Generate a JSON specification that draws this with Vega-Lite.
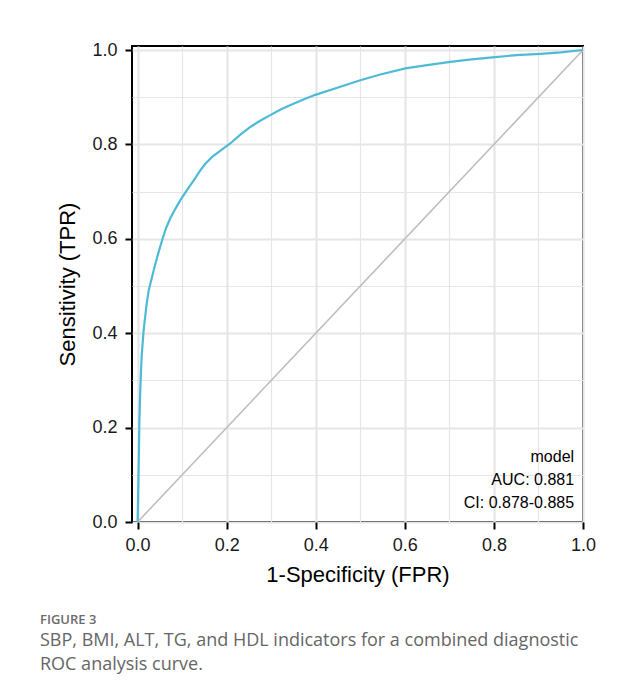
{
  "$schema": "https://vega.github.io/schema/vega-lite/v6.json",
  "width": 451,
  "height": 476,
  "autosize": {"type": "none"},
  "padding": {"left": 132, "top": 46, "right": 58, "bottom": 178},
  "background": "white",
  "config": {
    "view": {"stroke": "black", "strokeWidth": 2},
    "font": "Liberation Sans",
    "axis": {
      "labelFont": "Liberation Sans",
      "titleFont": "Liberation Sans",
      "labelFontSize": 18,
      "titleFontSize": 22,
      "titleFontWeight": "normal",
      "labelColor": "#1a1a1a",
      "titleColor": "black",
      "tickColor": "black",
      "tickWidth": 2,
      "tickSize": 7,
      "domain": false,
      "grid": true,
      "gridColor": "#e6e6e6",
      "gridOpacity": 1
    }
  },
  "title": {
    "text": "FIGURE 3",
    "subtitle": ["SBP, BMI, ALT, TG, and HDL indicators for a combined diagnostic", "ROC analysis curve."],
    "orient": "bottom",
    "anchor": "start",
    "frame": "group",
    "dx": -92,
    "offset": 29,
    "font": "Open Sans",
    "fontSize": 13,
    "fontWeight": 600,
    "color": "#6b6b6b",
    "subtitleFont": "Open Sans",
    "subtitleFontSize": 18,
    "subtitleColor": "#666666",
    "subtitleLineHeight": 24,
    "subtitlePadding": 5
  },
  "resolve": {"axis": {"x": "independent", "y": "independent"}},
  "layer": [
    {
      "data": {"values": [{"fpr": 0, "tpr": 0}, {"fpr": 1, "tpr": 1}]},
      "mark": {"type": "line", "color": "#bebebe", "strokeWidth": 1.6},
      "encoding": {
        "x": {
          "field": "fpr", "type": "quantitative",
          "scale": {"domain": [-0.0126, 1.0], "nice": false, "zero": false},
          "axis": {"orient": "bottom", "grid": true, "values": [0.1, 0.3, 0.5, 0.7, 0.9], "labels": false, "ticks": false, "title": null, "gridWidth": 1.2}
        },
        "y": {
          "field": "tpr", "type": "quantitative",
          "scale": {"domain": [0, 1.0085], "nice": false, "zero": false},
          "axis": {"orient": "left", "grid": true, "values": [0.1, 0.3, 0.5, 0.7, 0.9], "labels": false, "ticks": false, "title": null, "gridWidth": 1.2}
        }
      }
    },
    {
      "data": {"values": [
        {"fpr": 0, "tpr": 0}, {"fpr": 0.001, "tpr": 0.05}, {"fpr": 0.003, "tpr": 0.15}, {"fpr": 0.004, "tpr": 0.215},
        {"fpr": 0.006, "tpr": 0.28}, {"fpr": 0.009, "tpr": 0.35}, {"fpr": 0.0135, "tpr": 0.406}, {"fpr": 0.02, "tpr": 0.46},
        {"fpr": 0.025, "tpr": 0.491}, {"fpr": 0.036, "tpr": 0.533}, {"fpr": 0.045, "tpr": 0.565}, {"fpr": 0.055, "tpr": 0.597},
        {"fpr": 0.064, "tpr": 0.623}, {"fpr": 0.073, "tpr": 0.643}, {"fpr": 0.085, "tpr": 0.664}, {"fpr": 0.096, "tpr": 0.682},
        {"fpr": 0.11, "tpr": 0.702}, {"fpr": 0.126, "tpr": 0.724}, {"fpr": 0.14, "tpr": 0.744}, {"fpr": 0.152, "tpr": 0.759},
        {"fpr": 0.168, "tpr": 0.774}, {"fpr": 0.186, "tpr": 0.787}, {"fpr": 0.208, "tpr": 0.802}, {"fpr": 0.23, "tpr": 0.82},
        {"fpr": 0.253, "tpr": 0.837}, {"fpr": 0.275, "tpr": 0.85}, {"fpr": 0.298, "tpr": 0.862}, {"fpr": 0.323, "tpr": 0.875},
        {"fpr": 0.35, "tpr": 0.886}, {"fpr": 0.375, "tpr": 0.896}, {"fpr": 0.399, "tpr": 0.905},
        {"fpr": 0.455, "tpr": 0.922}, {"fpr": 0.5, "tpr": 0.936}, {"fpr": 0.545, "tpr": 0.948}, {"fpr": 0.601, "tpr": 0.961},
        {"fpr": 0.65, "tpr": 0.968}, {"fpr": 0.702, "tpr": 0.975}, {"fpr": 0.75, "tpr": 0.98}, {"fpr": 0.803, "tpr": 0.985},
        {"fpr": 0.85, "tpr": 0.989}, {"fpr": 0.904, "tpr": 0.992}, {"fpr": 0.95, "tpr": 0.995}, {"fpr": 1, "tpr": 1}
      ]},
      "mark": {"type": "line", "color": "#4dbbd5", "strokeWidth": 2.2},
      "encoding": {
        "x": {
          "field": "fpr", "type": "quantitative",
          "scale": {"domain": [-0.0126, 1.0], "nice": false, "zero": false},
          "axis": {"orient": "bottom", "grid": true, "values": [0, 0.2, 0.4, 0.6, 0.8, 1.0], "format": ".1f", "title": "1-Specificity (FPR)", "gridWidth": 2.2, "labelPadding": 7, "titlePadding": 10, "labelFlush": false}
        },
        "y": {
          "field": "tpr", "type": "quantitative",
          "scale": {"domain": [0, 1.0085], "nice": false, "zero": false},
          "axis": {"orient": "left", "grid": true, "values": [0, 0.2, 0.4, 0.6, 0.8, 1.0], "format": ".1f", "title": "Sensitivity (TPR)", "gridWidth": 2.2, "labelPadding": 8, "titlePadding": 12, "labelFlush": false}
        }
      }
    },
    {
      "data": {"values": [{}]},
      "mark": {"type": "text", "align": "right", "baseline": "middle", "fontSize": 16, "lineHeight": 23, "lineBreak": "\n", "color": "black", "font": "Liberation Sans"},
      "encoding": {
        "x": {"datum": 0.98, "type": "quantitative", "axis": null},
        "y": {"datum": 0.137, "type": "quantitative", "axis": null},
        "text": {"value": "model\nAUC: 0.881\nCI: 0.878-0.885"}
      }
    }
  ]
}
